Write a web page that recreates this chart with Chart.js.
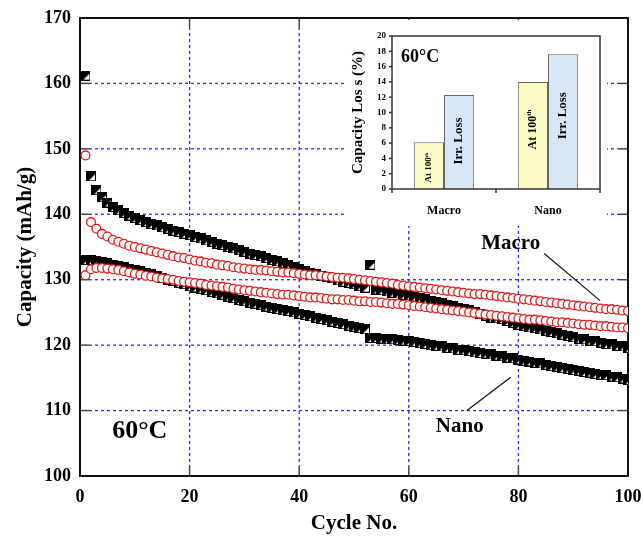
<!DOCTYPE html>
<html>
<head>
<meta charset="utf-8">
<script src="https://cdn.jsdelivr.net/npm/chart.js@4.4.1/dist/chart.umd.min.js"></script>
<style>
  body { margin: 0; background: #fff; }
  #wrap { position: relative; width: 643px; height: 536px; }
  #main { position: absolute; left: 0; top: 0; }
  #inset { position: absolute; left: 345px; top: 20px; }
</style>
</head>
<body>
<div id="wrap">
  <canvas id="main" width="643" height="536"></canvas>
  <canvas id="inset" width="262" height="206"></canvas>
</div>
<script>
// ---- data ----
var cycles = [1,2,3,4,5,6,7,8,9,10,11,12,13,14,15,16,17,18,19,20,
  21,22,23,24,25,26,27,28,29,30,31,32,33,34,35,36,37,38,39,40,
  41,42,43,44,45,46,47,48,49,50,51,52,53,54,55,56,57,58,59,60,
  61,62,63,64,65,66,67,68,69,70,71,72,73,74,75,76,77,78,79,80,
  81,82,83,84,85,86,87,88,89,90,91,92,93,94,95,96,97,98,99,100];

// upper black squares
var blackUpper = [161.2,145.8,143.7,142.6,141.8,141.1,140.6,140.2,139.8,139.4,
  139.1,138.8,138.5,138.3,138.0,137.8,137.5,137.3,137.0,136.8,
  136.5,136.3,136.0,135.8,135.5,135.3,135.0,134.8,134.5,134.3,
  134.0,133.8,133.6,133.3,133.0,132.8,132.5,132.3,132.0,131.6,
  131.4,131.1,130.9,130.6,130.4,130.2,129.9,129.7,129.5,129.3,
  129.0,128.8,132.3,128.5,128.4,128.2,128.0,127.9,127.7,127.6,
  127.4,127.2,127.0,126.8,126.6,126.4,126.2,126.0,125.7,125.5,
  125.3,125.0,124.8,124.5,124.2,124.1,124.0,123.7,123.4,123.1,
  122.9,122.7,122.6,122.4,122.2,122.0,121.8,121.6,121.4,121.2,
  121.0,120.9,120.7,120.6,120.4,120.2,120.1,119.9,119.8,119.6];

// lower black squares
var blackLower = [133.0,133.0,132.9,132.7,132.5,132.3,132.1,131.9,131.7,131.5,
  131.3,131.0,130.8,130.5,130.3,130.0,129.8,129.5,129.3,129.0,
  128.8,128.6,128.4,128.1,127.9,127.7,127.4,127.2,126.9,126.7,
  126.5,126.3,126.1,125.9,125.7,125.5,125.3,125.2,125.0,124.8,
  124.6,124.4,124.2,124.0,123.8,123.6,123.4,123.2,123.0,122.8,
  122.6,122.4,121.1,121.1,121.0,120.9,120.9,120.8,120.7,120.6,
  120.5,120.3,120.2,120.0,119.9,119.8,119.6,119.5,119.3,119.2,
  119.1,118.9,118.8,118.7,118.6,118.4,118.3,118.1,118.0,117.8,
  117.6,117.5,117.3,117.2,117.0,116.8,116.7,116.5,116.4,116.2,
  116.1,115.9,115.8,115.6,115.5,115.4,115.2,115.1,114.9,114.7];

// upper red circles
var redUpper = [149.0,138.8,137.8,137.0,136.6,136.1,135.8,135.5,135.2,135.0,
  134.8,134.6,134.4,134.2,134.0,133.8,133.6,133.4,133.3,133.1,
  132.9,132.8,132.6,132.5,132.3,132.2,132.1,131.9,131.8,131.7,
  131.6,131.5,131.5,131.4,131.3,131.2,131.1,131.1,131.0,130.9,
  130.8,130.7,130.7,130.6,130.5,130.4,130.3,130.3,130.2,130.1,
  130.0,129.9,129.8,129.7,129.6,129.5,129.4,129.2,129.1,129.0,
  128.9,128.8,128.7,128.6,128.5,128.4,128.3,128.2,128.1,128.0,
  127.9,127.8,127.8,127.7,127.6,127.5,127.4,127.3,127.2,127.1,
  127.0,126.9,126.8,126.7,126.6,126.5,126.4,126.3,126.2,126.1,
  126.0,125.9,125.8,125.7,125.6,125.5,125.5,125.4,125.3,125.2];

// lower red circles
var redLower = [130.7,131.6,131.8,131.8,131.7,131.6,131.5,131.3,131.1,130.9,
  130.8,130.6,130.5,130.3,130.2,130.1,130.0,129.8,129.7,129.6,
  129.5,129.4,129.2,129.1,129.0,128.9,128.8,128.6,128.5,128.4,
  128.3,128.2,128.1,128.0,127.9,127.8,127.7,127.7,127.6,127.5,
  127.4,127.3,127.3,127.2,127.1,127.0,127.0,126.9,126.9,126.8,
  126.7,126.7,126.6,126.6,126.5,126.4,126.3,126.3,126.2,126.1,
  126.0,125.9,125.8,125.7,125.6,125.5,125.4,125.3,125.2,125.1,
  125.0,124.9,124.8,124.7,124.6,124.5,124.4,124.3,124.2,124.1,
  124.0,123.9,123.9,123.8,123.7,123.6,123.5,123.5,123.4,123.3,
  123.2,123.1,123.1,123.0,122.9,122.9,122.8,122.7,122.7,122.6];

// inset bars
var insetCats = ["Macro", "Nano"];
var lossAt100 = [6.1, 14.0];
var irrLoss = [12.3, 17.6];

var serif = "'Liberation Serif', 'Times New Roman', serif";

// half filled square marker
function halfSquare(s) {
  var c = document.createElement("canvas");
  c.width = s; c.height = s;
  var g = c.getContext("2d");
  g.fillStyle = "#fff";
  g.fillRect(0, 0, s, s);
  g.fillStyle = "#000";
  g.beginPath();
  g.moveTo(0, 0); g.lineTo(s, 0); g.lineTo(s, 2); g.lineTo(2, s); g.lineTo(0, s);
  g.closePath();
  g.fill();
  g.strokeStyle = "#000";
  g.lineWidth = 1;
  g.strokeRect(0.5, 0.5, s - 1, s - 1);
  return c;
}
var sq = halfSquare(10);

function pts(vals) {
  return vals.map(function (v, i) { return { x: cycles[i], y: v }; });
}

function seg(ctx, x1, y1, x2, y2) {
  ctx.beginPath(); ctx.moveTo(x1, y1); ctx.lineTo(x2, y2); ctx.stroke();
}

// grid, inward ticks and box
var framePlugin = {
  id: "frame",
  beforeDatasetsDraw: function (chart) {
    var ctx = chart.ctx, a = chart.chartArea, x = chart.scales.x, y = chart.scales.y;
    var tl = 9;
    var xv = x.ticks.map(function (t) { return t.value; }).filter(function (v) { return v > x.min && v < x.max; });
    var yv = y.ticks.map(function (t) { return t.value; }).filter(function (v) { return v > y.min && v < y.max; });
    ctx.save();
    ctx.strokeStyle = "#2b2bff";
    ctx.lineWidth = 1.3;
    ctx.setLineDash([3, 3]);
    xv.forEach(function (v) { var p = x.getPixelForValue(v); seg(ctx, p, a.top + tl, p, a.bottom - tl); });
    yv.forEach(function (v) { var p = y.getPixelForValue(v); seg(ctx, a.left + tl, p, a.right - tl, p); });
    ctx.setLineDash([]);
    ctx.strokeStyle = "#444";
    ctx.lineWidth = 1.5;
    xv.forEach(function (v) {
      var p = x.getPixelForValue(v);
      seg(ctx, p, a.bottom, p, a.bottom - tl);
      seg(ctx, p, a.top, p, a.top + tl);
    });
    yv.forEach(function (v) {
      var p = y.getPixelForValue(v);
      seg(ctx, a.left, p, a.left + tl, p);
      seg(ctx, a.right, p, a.right - tl, p);
    });
    ctx.strokeStyle = "#111";
    ctx.lineWidth = 2;
    ctx.strokeRect(a.left, a.top, a.right - a.left, a.bottom - a.top);
    ctx.restore();
  },
  afterDraw: function (chart) {
    var ctx = chart.ctx, x = chart.scales.x, y = chart.scales.y;
    function X(v) { return x.getPixelForValue(v); }
    function Y(v) { return y.getPixelForValue(v); }
    ctx.save();
    ctx.fillStyle = "#000";
    ctx.textAlign = "center";
    ctx.textBaseline = "middle";
    ctx.font = "bold 26px " + serif;
    ctx.fillText("60°C", X(10.9), Y(106.8));
    ctx.font = "bold 21px " + serif;
    ctx.fillText("Macro", X(78.6), Y(135.5));
    ctx.fillText("Nano", X(69.3), Y(107.5));
    ctx.strokeStyle = "#111";
    ctx.lineWidth = 1.2;
    seg(ctx, X(84.7), Y(134.0), X(94.9), Y(126.8));
    seg(ctx, X(78.6), Y(115.1), X(70.6), Y(110.0));
    ctx.restore();
  }
};

new Chart(document.getElementById("main"), {
  type: "scatter",
  data: {
    datasets: [
      { data: pts(redUpper), pointStyle: "circle", pointRadius: 4.4, borderColor: "#e01b1b", backgroundColor: "#fff", pointBorderWidth: 1.3, order: 1 },
      { data: pts(redLower), pointStyle: "circle", pointRadius: 4.4, borderColor: "#e01b1b", backgroundColor: "#fff", pointBorderWidth: 1.3, order: 1 },
      { data: pts(blackUpper), pointStyle: sq, order: 2 },
      { data: pts(blackLower), pointStyle: sq, order: 2 }
    ]
  },
  options: {
    responsive: false,
    animation: false,
    events: [],
    layout: { padding: { top: 18, right: 15, left: 0, bottom: 0 } },
    plugins: { legend: { display: false }, tooltip: { enabled: false } },
    scales: {
      x: {
        type: "linear", min: 0, max: 100,
        grid: { display: false, drawTicks: false },
        border: { display: false },
        ticks: { stepSize: 20, color: "#000", padding: 11, font: { family: serif, size: 18, weight: "bold" } },
        title: { display: true, text: "Cycle No.", color: "#000", padding: 0, font: { family: serif, size: 21, weight: "bold" } },
        afterFit: function (s) { s.height = 60; s.paddingLeft = 0; s.paddingRight = 0; }
      },
      y: {
        min: 100, max: 170,
        grid: { display: false, drawTicks: false },
        border: { display: false },
        ticks: { stepSize: 10, color: "#000", padding: 9, font: { family: serif, size: 18, weight: "bold" } },
        title: { display: true, text: "Capacity (mAh/g)", color: "#000", padding: 13, font: { family: serif, size: 21, weight: "bold" } },
        afterFit: function (s) { s.width = 80; s.paddingTop = 0; s.paddingBottom = 0; }
      }
    }
  },
  plugins: [framePlugin]
});

// ---- inset ----
var insetPlugin = {
  id: "insetFrame",
  beforeDraw: function (chart) {
    var ctx = chart.ctx;
    ctx.save();
    ctx.fillStyle = "#fff";
    ctx.fillRect(0, 0, chart.width, chart.height);
    ctx.restore();
  },
  afterDatasetsDraw: function (chart) {
    var ctx = chart.ctx, a = chart.chartArea, y = chart.scales.y;
    ctx.save();
    ctx.strokeStyle = "#333";
    ctx.lineWidth = 1.5;
    ctx.strokeRect(a.left, a.top, a.right - a.left, a.bottom - a.top);
    y.ticks.forEach(function (t) {
      var p = y.getPixelForValue(t.value);
      seg(ctx, a.left - 3, p, a.left, p);
    });
    var mid = (a.left + a.right) / 2;
    [a.left, mid, a.right].forEach(function (p) { seg(ctx, p, a.bottom, p, a.bottom + 4); });

    // rotated labels inside the bars
    ctx.fillStyle = "#000";
    ctx.textBaseline = "middle";
    var m0 = chart.getDatasetMeta(0).data, m1 = chart.getDatasetMeta(1).data;
    function vtext(cx, cy, main, sup, size) {
      ctx.save();
      ctx.translate(cx, cy);
      ctx.rotate(-Math.PI / 2);
      ctx.font = "bold " + size + "px " + serif;
      var w1 = ctx.measureText(main).width;
      ctx.font = "bold " + Math.round(size * 0.6) + "px " + serif;
      var w2 = sup ? ctx.measureText(sup).width : 0;
      var sx = -(w1 + w2) / 2;
      ctx.textAlign = "left";
      ctx.font = "bold " + size + "px " + serif;
      ctx.fillText(main, sx, 0);
      if (sup) {
        ctx.font = "bold " + Math.round(size * 0.6) + "px " + serif;
        ctx.fillText(sup, sx + w1, -size * 0.3);
      }
      ctx.restore();
    }
    var atSizes = [9, 12];
    m0.forEach(function (b, i) { vtext(b.x, (b.y + b.base) / 2 + (i ? -6 : 2), "At 100", "th", atSizes[i]); });
    m1.forEach(function (b, i) { vtext(b.x, (b.y + b.base) / 2 + (i ? -6 : -1), "Irr. Loss", "", 13); });

    ctx.font = "bold 18px " + serif;
    ctx.textAlign = "left";
    ctx.fillText("60°C", a.left + 9, a.top + 21);
    ctx.restore();
  }
};

new Chart(document.getElementById("inset"), {
  type: "bar",
  data: {
    labels: insetCats,
    datasets: [
      { data: lossAt100, backgroundColor: "#fbfbc6", borderColor: "#666", borderWidth: 1, categoryPercentage: 0.58, barPercentage: 1 },
      { data: irrLoss, backgroundColor: "#d7e7f5", borderColor: "#666", borderWidth: 1, categoryPercentage: 0.58, barPercentage: 1 }
    ]
  },
  options: {
    responsive: false,
    animation: false,
    events: [],
    layout: { padding: { top: 16, right: 7, left: 0, bottom: 0 } },
    plugins: { legend: { display: false }, tooltip: { enabled: false } },
    scales: {
      x: {
        grid: { display: false, drawTicks: false },
        border: { display: false },
        ticks: { color: "#000", padding: 15, font: { family: serif, size: 12, weight: "bold" } },
        afterFit: function (s) { s.height = 37; }
      },
      y: {
        min: 0, max: 20,
        grid: { display: false, drawTicks: false },
        border: { display: false },
        ticks: { stepSize: 2, color: "#000", padding: 6, font: { family: serif, size: 9, weight: "bold" } },
        title: { display: true, text: "Capacity Los s (%)", color: "#000", padding: 4, font: { family: serif, size: 15, weight: "bold" } },
        afterFit: function (s) { s.width = 47; }
      }
    }
  },
  plugins: [insetPlugin]
});
</script>
</body>
</html>
